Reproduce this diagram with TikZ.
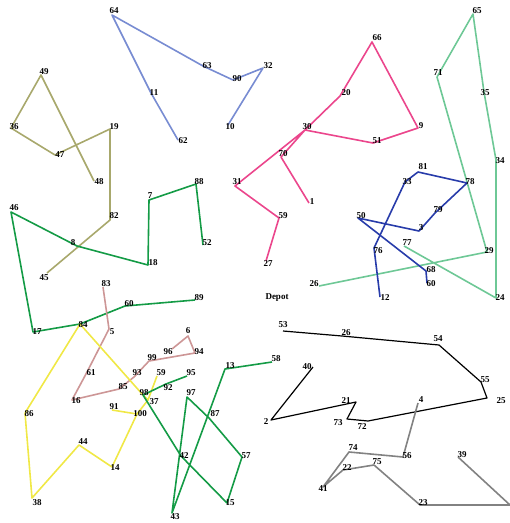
\documentclass[tikz,border=0pt]{standalone}
\usepackage{fontspec}
\setmainfont{Liberation Serif}
\definecolor{routeBlue}{RGB}{120,140,210}
\definecolor{routeOlive}{RGB}{168,168,108}
\definecolor{routePink}{RGB}{235,70,140}
\definecolor{routeMint}{RGB}{110,200,150}
\definecolor{routeNavy}{RGB}{40,60,170}
\definecolor{routeGreen}{RGB}{20,155,70}
\definecolor{routeRose}{RGB}{205,150,150}
\definecolor{routeYellow}{RGB}{240,232,70}
\definecolor{routeGray}{RGB}{130,130,130}
\begin{document}
\begin{tikzpicture}[x=1pt, y=-1pt, line width=1.6pt, line join=round,
  lbl/.style={font=\fontsize{9}{9}\selectfont\bfseries, inner sep=0pt}]
  \useasboundingbox (0,0) rectangle (510,523);
  % customers: name/x/y/label/label x/label y
  \def\customers{p62/178/140/62/183/141, p11/151/93/11/154/93, p64/112/15/64/114/11,
    p63/203/66/63/207/66, p90/233/80/90/237/79, p32/263/68/32/268/66,
    p10/228/125/10/230/127,
    p45/47/273/45/44/278, p8/77/246/8/73/243, p82/110/220/82/114/216,
    p19/110/129/19/114/127, p47/55/155/47/60/155, p36/11/128/36/14/127,
    p49/41/75/49/44/72, p48/94/181/48/99/182,
    p27/266/261/27/268/264, p59/279/218/59/283/216, p31/235/186/31/237/182,
    p30/305/130/30/307/127, p20/340/96/20/346/93, p66/372/42/66/377/38,
    p9/418/128/9/421/126, p51/373/143/51/377/141, p70/281/157/70/283/154,
    p1/309/203/1/312/202,
    p26/319/286/26/314/284, p29/487/252/29/489/251, p71/437/77/71/438/73,
    p65/473/14/65/477/11, p35/484/92/35/485/93, p34/496/160/34/500/161,
    p24/496/298/24/500/298, p77/404/246/77/407/243,
    p12/380/297/12/385/298, p76/374/248/76/378/251, p33/405/182/33/407/182,
    p81/418/172/81/423/167, p78/467/183/78/470/182, p79/435/213/79/438/210,
    p3/419/231/3/421/228, p50/358/218/50/361/216, p68/426/271/68/431/270,
    p60/427/283/60/431/284,
    p52/203/245/52/207/243, p88/196/184/88/199/182, p7/149/200/7/150/196,
    p18/148/265/18/153/263, p46/11/212/46/14/208, p17/33/332/17/37/332,
    p84/80/324/84/83/325, p60g/125/306/60/129/304, p89/195/300/89/199/298,
    p83/103/287/83/106/284, p5/109/329/5/112/332, p61/86/374/61/91/373,
    p16/72/400/16/76/401, p85/119/389/85/123/387, p93/134/377/93/137/373,
    p99/149/361/99/152/358, p94/195/353/94/199/352, p6/188/336/6/188/331,
    p96/172/349/96/168/352,
    p98/143/395/98/144/393, p37/148/400/37/154/402, p59y/157/376/59/161/373,
    p100/137/414/100/140/414, p91/112/410/91/114/407, p14/112/467/14/115/468,
    p44/79/445/44/83/442, p38/32/498/38/37/503, p86/25/413/86/29/414,
    p95/187/376/95/191/373, p92/166/384/92/168/388, p42/181/456/42/184/456,
    p15/227/503/15/230/503, p57/242/457/57/246/456, p87/209/418/87/215/414,
    p97/187/397/97/191/393, p43/172/513/43/175/517, p13/225/369/13/230/366,
    p58/272/362/58/276/359,
    p53/283/331/53/283/325, p26k/342/336/26/346/333, p54/439/345/54/438/339,
    p55/481/382/55/485/380, p25/487/398/25/501/401, p72/368/421/72/362/427,
    p73/347/419/73/338/423, p21/356/402/21/346/401, p2/271/420/2/266/422,
    p40/313/367/40/307/367,
    p4/418/403/4/421/400, p56/403/457/56/407/456, p74/349/452/74/353/448,
    p41/323/487/41/323/489, p22/343/470/22/347/468, p75/374/465/75/377/462,
    p23/420/505/23/423/503, p39/458/457/39/462/455}
  \foreach \nm/\x/\y/\t/\lx/\ly in \customers
    \coordinate (\nm) at (\x,\y);
  \coordinate (gEnd) at (510,505);
  % routes
  \draw[routeBlue] (p62) -- (p11) -- (p64) -- (p63) -- (p90) -- (p32) -- (p10);
  \draw[routeOlive] (p45) -- (p82) -- (p19) -- (p47) -- (p36) -- (p49) -- (p48);
  \draw[routePink] (p27) -- (p59) -- (p31) -- (p30) -- (p20) -- (p66) -- (p9)
    -- (p51) -- (p30) -- (p70) -- (p1);
  \draw[routeMint] (p26) -- (p29) -- (p71) -- (p65) -- (p35) -- (p34) -- (p24)
    -- (p77);
  \draw[routeNavy] (p12) -- (p76) -- (p33) -- (p81) -- (p78) -- (p79) -- (p3)
    -- (p50) -- (p68) -- (p60);
  \draw[routeGreen] (p52) -- (p88) -- (p7) -- (p18) -- (p8) -- (p46) -- (p17)
    -- (p84) -- (p60g) -- (p89);
  \draw[routeRose] (p83) -- (p5) -- (p61) -- (p16) -- (p85) -- (p93) -- (p99)
    -- (p94) -- (p6) -- (p96);
  \draw[routeYellow] (p86) -- (p84) -- (p98) -- (p37) -- (p59y);
  \draw[routeYellow] (p91) -- (p100) -- (p37);
  \draw[routeYellow] (p100) -- (p14) -- (p44) -- (p38) -- (p86);
  \draw[routeGreen] (p95) -- (p92) -- (p98) -- (p42) -- (p15) -- (p57) -- (p87)
    -- (p97) -- (p43) -- (p13) -- (p58);
  \draw[black, line width=1.2pt] (p53) -- (p26k) -- (p54) -- (p55) -- (p25) -- (p72)
    -- (p73) -- (p21) -- (p2) -- (p40);
  \draw[routeGray] (p4) -- (p56) -- (p74) -- (p41) -- (p22) -- (p75) -- (p23)
    -- (gEnd) -- (p39);
  % labels
  \foreach \nm/\x/\y/\t/\lx/\ly in \customers
    \node[lbl] (l\nm) at (\lx,\ly) {\t};
  \node[lbl] (depot) at (277,298) {Depot};
\end{tikzpicture}
\end{document}
